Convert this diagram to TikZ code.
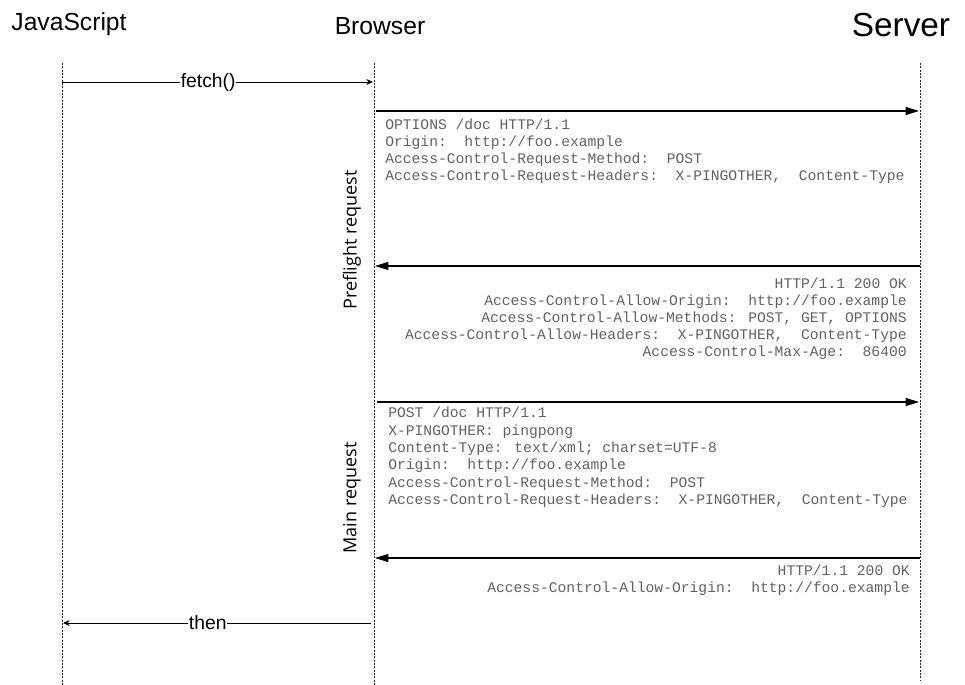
\documentclass[tikz,border=0pt]{standalone}
\usepackage{fontspec}
\setmainfont{Liberation Sans}
\newfontfamily\codefont{Liberation Mono}
\newfontfamily\sidefont{Open Sans}
\usetikzlibrary{arrows.meta}

\tikzset{
  lifeline/.style={line width=0.6pt, dash pattern=on 1.6pt off 0.9pt, black!85},
  callarrow/.style={line width=0.7pt, -{Stealth[length=5pt,width=4.5pt]}},
  msgarrow/.style={line width=0.8pt, -{Triangle[length=10pt,width=6pt]}},
  actor/.style={font=\fontsize{18.5}{22}\selectfont, inner sep=0pt},
  hdrtext/.style={font=\codefont\fontsize{11}{12.6}\selectfont, text=black!62, inner sep=0pt},
  phase/.style={font=\sidefont\fontsize{13.5}{16}\selectfont, rotate=90, inner sep=0pt},
  calllabel/.style={font=\fontsize{14.5}{17}\selectfont, fill=white, inner sep=0.5pt},
}

\begin{document}
\begin{tikzpicture}[x=0.75pt,y=0.75pt,yscale=-1,xscale=1]
    \useasboundingbox (0,0) rectangle (965,685);

    % Actors
    \node[actor] (js) at (69,24) {JavaScript};
    \node[actor] (browser) at (380,26) {Browser};
    \node[actor, font=\fontsize{25}{30}\selectfont] (server) at (901,25) {Server};

    % Lifelines
    \coordinate (jsTop) at (62,63);
    \coordinate (jsEnd) at (62,685);
    \coordinate (brTop) at (374,63);
    \coordinate (brEnd) at (374,685);
    \coordinate (svTop) at (920,63);
    \coordinate (svEnd) at (920,680);
    \draw[lifeline] (jsTop) -- (jsEnd);
    \draw[lifeline] (brTop) -- (brEnd);
    \draw[lifeline] (svTop) -- (svEnd);

    % fetch()
    \coordinate (fetchA) at (62,82);
    \coordinate (fetchB) at (373,82);
    \draw[callarrow] (fetchA) -- node[calllabel, pos=0.47] (fetchLbl) {fetch()} (fetchB);

    % Preflight request
    \coordinate (optA) at (376,111);
    \coordinate (optB) at (919,111);
    \draw[msgarrow] (optA) -- (optB);
    \node[hdrtext, anchor=north west, align=left] (optReq) at (385,119) {%
      OPTIONS /doc HTTP/1.1\\
      Origin:~~http://foo.example\\
      Access-Control-Request-Method:~~POST\\
      Access-Control-Request-Headers:~~X-PINGOTHER,~~Content-Type};

    \coordinate (optRespA) at (920,266);
    \coordinate (optRespB) at (375,266);
    \draw[msgarrow] (optRespA) -- (optRespB);
    \node[hdrtext, anchor=north east, align=right] (optResp) at (907,278) {%
      HTTP/1.1 200 OK\\
      Access-Control-Allow-Origin:~~http://foo.example\\
      Access-Control-Allow-Methods: POST, GET, OPTIONS\\
      Access-Control-Allow-Headers:~~X-PINGOTHER,~~Content-Type\\
      Access-Control-Max-Age:~~86400};

    % Main request
    \coordinate (postA) at (377,402);
    \coordinate (postB) at (919,402);
    \draw[msgarrow] (postA) -- (postB);
    \node[hdrtext, anchor=north west, align=left, font=\codefont\fontsize{11}{13}\selectfont] (postReq) at (388,407) {%
      POST /doc HTTP/1.1\\
      X-PINGOTHER: pingpong\\
      Content-Type: text/xml; charset=UTF-8\\
      Origin:~~http://foo.example\\
      Access-Control-Request-Method:~~POST\\
      Access-Control-Request-Headers:~~X-PINGOTHER,~~Content-Type};

    \coordinate (postRespA) at (920,558);
    \coordinate (postRespB) at (375,558);
    \draw[msgarrow] (postRespA) -- (postRespB);
    \node[hdrtext, anchor=north east, align=right] (postResp) at (910,565) {%
      HTTP/1.1 200 OK\\
      Access-Control-Allow-Origin:~~http://foo.example};

    % Phase labels
    \node[phase] (preLbl) at (352,240) {Preflight request};
    \node[phase] (mainLbl) at (352,498) {Main request};

    % then
    \coordinate (thenA) at (371,623);
    \coordinate (thenB) at (63,623);
    \draw[callarrow] (thenA) -- node[calllabel, pos=0.53] (thenLbl) {then} (thenB);
\end{tikzpicture}
\end{document}
